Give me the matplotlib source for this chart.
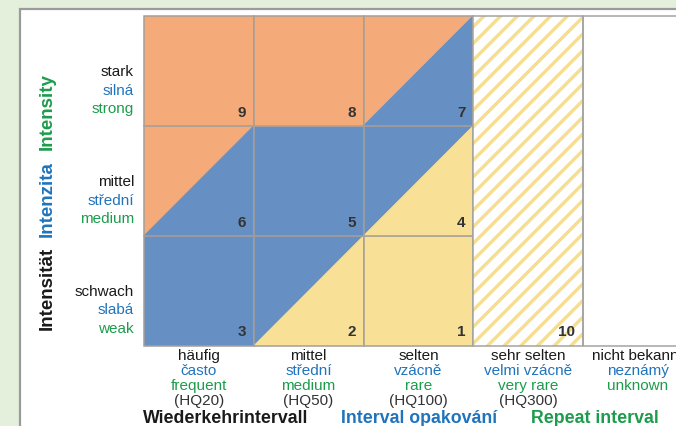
import matplotlib
matplotlib.use('Agg')
import matplotlib.pyplot as plt
from matplotlib.patches import Polygon, Rectangle

plt.rcParams['font.family'] = ['Liberation Sans', 'DejaVu Sans']
plt.rcParams['hatch.linewidth'] = 2.4

# ── Data ──
intensity_de = ['schwach', 'mittel', 'stark']
intensity_cz = ['slabá', 'střední', 'silná']
intensity_en = ['weak', 'medium', 'strong']

interval_de = ['häufig', 'mittel', 'selten', 'sehr selten', 'nicht bekannt']
interval_cz = ['často', 'střední', 'vzácně', 'velmi vzácně', 'neznámý']
interval_en = ['frequent', 'medium', 'rare', 'very rare', 'unknown']
interval_hq = ['(HQ20)', '(HQ50)', '(HQ100)', '(HQ300)', '']

# rows bottom -> top, columns left -> right
cell_numbers = [[3, 2, 1], [6, 5, 4], [9, 8, 7]]
# colour of upper-left / lower-right triangle of each cell
upper_class = [['b', 'b', 'y'], ['o', 'b', 'b'], ['o', 'o', 'o']]
lower_class = [['b', 'y', 'y'], ['b', 'b', 'y'], ['o', 'o', 'b']]
extra_numbers = [10, 0]  # sehr selten, nicht bekannt

COLORS = {'o': '#f4ab79', 'b': '#6690c3', 'y': '#f8e197'}
GRID = '#a59e99'
BLACK, BLUE, GREEN = '#1a1a1a', '#1f74bd', '#1c9c4c'

W, H = 676, 426
fig = plt.figure(figsize=(W / 100, H / 100), dpi=100)
fig.patch.set_facecolor('#e4efdc')
fig.patches.append(Rectangle((20 / W, -0.1), 1.2, 1.1 - 9.5 / H, transform=fig.transFigure,
                             facecolor='white', edgecolor='#9b9b9b', linewidth=1.6, zorder=-1))

# ── Matrix axes: 1 data unit = one cell ──
cw, chh = 109.75, 110
ax = fig.add_axes([144 / W, 80 / H, (W - 144) / W, 330 / H])
ax.set_xlim(0, (W - 144) / cw)
ax.set_ylim(0, 3)
ax.axis('off')

for r in range(3):
    for c in range(3):
        for tri, cls in [([(c, r), (c, r + 1), (c + 1, r + 1)], upper_class[r][c]),
                         ([(c, r), (c + 1, r + 1), (c + 1, r)], lower_class[r][c])]:
            ax.add_patch(Polygon(tri, closed=True, facecolor=COLORS[cls],
                                 edgecolor=COLORS[cls], linewidth=0.8))
        ax.add_patch(Rectangle((c, r), 1, 1, fill=False, edgecolor=GRID, linewidth=1.1, clip_on=False))
        ax.text(c + 1 - 8 / cw, r + 13.5 / chh, str(cell_numbers[r][c]), ha='right', va='center',
                fontsize=11, fontweight='bold', color='#333333')

# sehr selten (hatched) and nicht bekannt (blank)
ax.add_patch(Rectangle((3, 0), 1, 3, facecolor='white', edgecolor='#f6de8e', linewidth=0, hatch='//'))
for i, num in enumerate(extra_numbers):
    c = 3 + i
    ax.add_patch(Rectangle((c, 0), 1, 3, fill=False, edgecolor='#a3a3a3', linewidth=1.1, clip_on=False))
    ax.text(c + 1 - 8 / cw, 13.5 / chh, str(num), ha='right', va='center',
            fontsize=11, fontweight='bold', color='#333333')

# ── Row labels ──
px = 0.72  # points per pixel
for r in range(3):
    for k, (txt, col) in enumerate(zip([intensity_de[r], intensity_cz[r], intensity_en[r]], [BLACK, BLUE, GREEN])):
        ax.annotate(txt, xy=(0, r + 0.5), xytext=(-10 * px, (-1 - 18.5 * k) * px), textcoords='offset points',
                    ha='right', va='center', fontsize=11, color=col, annotation_clip=False)

# ── Column labels ──
for c in range(5):
    lines = [interval_de[c], interval_cz[c], interval_en[c], interval_hq[c]]
    for k, (txt, col) in enumerate(zip(lines, [BLACK, BLUE, GREEN, '#333333'])):
        ax.annotate(txt, xy=(c + 0.5, 0), xytext=(0, (-10 - 15 * k) * px), textcoords='offset points',
                    ha='center', va='center', fontsize=11, color=col, annotation_clip=False)

# ── Axis titles ──
for txt, col, xl in [('Wiederkehrintervall', BLACK, 143), ('Interval opakování', BLUE, 341), ('Repeat interval', GREEN, 531)]:
    fig.text(xl / W, 1 - 423 / H, txt, ha='left', va='baseline', fontsize=12.8, fontweight='bold', color=col)
for txt, col, yc in [('Intensität', BLACK, 288), ('Intenzita', BLUE, 199), ('Intensity', GREEN, 112)]:
    fig.text(47 / W, 1 - yc / H, txt, ha='center', va='center', rotation=90,
             fontsize=13.5, fontweight='bold', color=col)

plt.savefig('out.png', dpi=100)
plt.close()
